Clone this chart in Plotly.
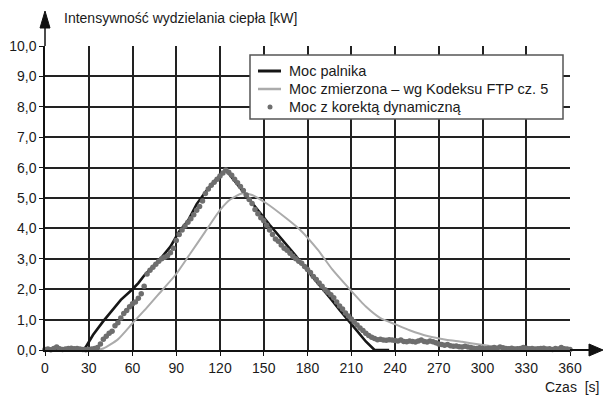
import plotly.graph_objects as go

# --- data ---------------------------------------------------------------
burner_t = [0, 26, 28, 33, 40, 46, 52, 60, 64, 68, 74, 80, 86, 92, 98, 104, 110, 116, 124,
            130, 136, 142, 148, 154, 160, 166, 172, 178, 184, 190, 196, 202, 208, 214, 220, 226, 236]
burner_p = [0.0, 0.0, 0.1, 0.5, 0.95, 1.3, 1.65, 2.0, 2.2, 2.45, 2.75, 3.05, 3.4, 3.9, 4.25, 4.8,
            5.2, 5.55, 5.92, 5.55, 5.2, 4.82, 4.48, 4.12, 3.78, 3.45, 3.1, 2.72, 2.38, 2.02,
            1.68, 1.32, 0.98, 0.62, 0.28, 0.0, 0.0]

measured_t = [35, 40, 50, 60, 70, 80, 90, 100, 110, 120, 127, 135, 142, 152, 165, 175, 187,
              197, 208, 220, 230, 240, 250, 263, 275, 286, 298, 309, 320, 340, 360]
measured_p = [0.0, 0.05, 0.35, 0.88, 1.4, 1.95, 2.5, 3.2, 3.9, 4.6, 4.95, 5.15, 5.1, 4.82,
              4.35, 3.95, 3.3, 2.65, 2.05, 1.43, 1.05, 0.85, 0.65, 0.45, 0.34, 0.27, 0.18,
              0.11, 0.08, 0.05, 0.04]

corrected_t = list(range(0, 361, 2))
corrected_p = [
    0.02, 0.03, 0.01, 0.05, 0.10, 0.04, 0.02, 0.03, 0.05, 0.06,   # 0-18
    0.04, 0.05, 0.03, 0.02, 0.01, 0.02, 0.03, 0.05, 0.08, 0.20,   # 20-38
    0.35, 0.45, 0.55, 0.62, 0.80, 0.90, 1.05, 1.20, 1.30, 1.42,   # 40-58
    1.52, 1.58, 1.70, 1.85, 2.10, 2.50, 2.62, 2.72, 2.82, 2.92,   # 60-78
    3.00, 3.05, 3.10, 3.20, 3.35, 3.60, 3.80, 3.95, 4.08, 4.20,   # 80-98
    4.32, 4.45, 4.60, 4.72, 4.90, 5.15, 5.30, 5.42, 5.52, 5.62,   # 100-118
    5.72, 5.82, 5.92, 5.85, 5.75, 5.62, 5.50, 5.38, 5.25, 5.10,   # 120-138
    4.95, 4.82, 4.62, 4.48, 4.35, 4.25, 4.10, 3.95, 3.80, 3.65,   # 140-158
    3.58, 3.45, 3.35, 3.28, 3.18, 3.08, 3.00, 2.92, 2.85, 2.75,   # 160-178
    2.65, 2.55, 2.42, 2.32, 2.20, 2.10, 1.98, 1.90, 1.82, 1.72,   # 180-198
    1.58, 1.45, 1.35, 1.22, 1.12, 1.02, 0.92, 0.82, 0.72, 0.64,   # 200-218
    0.55, 0.48, 0.42, 0.38, 0.34, 0.35, 0.33, 0.32, 0.34, 0.33,   # 220-238
    0.31, 0.30, 0.33, 0.28, 0.27, 0.30, 0.28, 0.26, 0.30, 0.33,   # 240-258
    0.28, 0.26, 0.30, 0.27, 0.24, 0.20, 0.18, 0.16, 0.18, 0.14,   # 260-278
    0.12, 0.13, 0.11, 0.10, 0.12, 0.10, 0.08, 0.06, 0.05, 0.07,   # 280-298
    0.05, 0.04, 0.06, 0.05, 0.08, 0.06, 0.10, 0.07, 0.05, 0.04,   # 300-318
    0.06, 0.03, 0.04, 0.05, 0.08, 0.06, 0.04, 0.05, 0.03, 0.04,   # 320-338
    0.05, 0.06, 0.03, 0.04, 0.02, 0.05, 0.03, 0.08, 0.04, 0.03,   # 340-358
    0.02,                                                          # 360
]

x_ticks = list(range(0, 361, 30))
y_ticks = [i * 1.0 for i in range(0, 11)]

names = ["Moc palnika", "Moc zmierzona – wg Kodeksu FTP cz. 5", "Moc z korektą dynamiczną"]
y_title = "Intensywność wydzielania ciepła [kW]"
x_title = "Czas  [s]"

FONT = "Liberation Sans, Arial, sans-serif"
BLACK_LINE = "#161616"
GRAY_LINE = "#ababab"
DOT = "#6e6e6e"

fig = go.Figure()
fig.add_trace(go.Scatter(x=burner_t, y=burner_p, mode="lines", name=names[0],
                         line=dict(color=BLACK_LINE, width=2.6), cliponaxis=False))
fig.add_trace(go.Scatter(x=measured_t, y=measured_p, mode="lines", name=names[1],
                         line=dict(color=GRAY_LINE, width=2, shape="spline", smoothing=0.6),
                         cliponaxis=False))
fig.add_trace(go.Scatter(x=corrected_t, y=corrected_p, mode="markers", name=names[2],
                         marker=dict(color=DOT, size=5.5), cliponaxis=False))

W, H = 603, 395
L, R, T, B = 45, 33, 46, 45
pw, ph = W - L - R, H - T - B

def px(x):
    return (x - L) / pw

def py(y):
    return (H - B - y) / ph

# legend drawn as a framed box (pixel layout of the reference)
leg_x0, leg_x1, leg_y0, leg_y1 = 250, 563, 55, 119
row_y = [71, 89, 107]
shapes = [
    # axis extensions with arrowheads
    dict(type="line", xref="paper", yref="paper", x0=0, x1=0, y0=1, y1=py(27),
         line=dict(color="#111", width=1.5)),
    dict(type="path", xref="paper", yref="paper",
         path=f"M {px(45)} {py(11)} L {px(40)} {py(28)} L {px(50)} {py(28)} Z",
         fillcolor="#111", line=dict(color="#111", width=1)),
    dict(type="line", xref="paper", yref="paper", x0=1, x1=px(590), y0=0, y1=0,
         line=dict(color="#111", width=2)),
    dict(type="path", xref="paper", yref="paper",
         path=f"M {px(603)} {py(350)} L {px(589)} {py(344)} L {px(589)} {py(356)} Z",
         fillcolor="#111", line=dict(color="#111", width=1)),
    # legend frame
    dict(type="rect", xref="paper", yref="paper", x0=px(leg_x0), x1=px(leg_x1),
         y0=py(leg_y1), y1=py(leg_y0), fillcolor="white", line=dict(color="#555", width=1.5),
         layer="above"),
    dict(type="line", xref="paper", yref="paper", x0=px(258), x1=px(281),
         y0=py(row_y[0]), y1=py(row_y[0]), line=dict(color=BLACK_LINE, width=3), layer="above"),
    dict(type="line", xref="paper", yref="paper", x0=px(258), x1=px(281),
         y0=py(row_y[1]), y1=py(row_y[1]), line=dict(color=GRAY_LINE, width=2.5), layer="above"),
    dict(type="circle", xref="paper", yref="paper", x0=px(267.5), x1=px(272.5),
         y0=py(row_y[2] + 2.5), y1=py(row_y[2] - 2.5), fillcolor=DOT,
         line=dict(color=DOT, width=0), layer="above"),
]

annotations = [
    dict(text=y_title, xref="paper", yref="paper", x=px(62), y=py(18),
         xanchor="left", yanchor="middle", showarrow=False, font=dict(size=14)),
    dict(text=x_title, xref="paper", yref="paper", x=px(601), y=py(387),
         xanchor="right", yanchor="middle", showarrow=False, font=dict(size=14)),
]
for name, ry in zip(names, row_y):
    annotations.append(dict(text=name, xref="paper", yref="paper", x=px(287), y=py(ry),
                            xanchor="left", yanchor="middle", showarrow=False,
                            font=dict(size=14.5)))

fig.update_layout(
    width=W, height=H,
    margin=dict(l=L, r=R, t=T, b=B, autoexpand=False),
    paper_bgcolor="white", plot_bgcolor="white",
    separators=", ",
    font=dict(family=FONT, size=14, color="#1a1a1a"),
    showlegend=False,
    xaxis=dict(range=[0, 360], tickvals=x_ticks, showgrid=True, gridcolor="#222",
               gridwidth=2, showline=True, linecolor="#111", linewidth=2,
               ticks="outside", ticklen=4, tickcolor="#111", zeroline=False,
               tickfont=dict(size=14), automargin=False),
    yaxis=dict(range=[0, 10], tickvals=y_ticks, tickformat=".1f", showgrid=True,
               gridcolor="#222", gridwidth=2, showline=True, linecolor="#111",
               linewidth=1.5, ticks="outside", ticklen=4, tickcolor="#111",
               zeroline=False, tickfont=dict(size=14), automargin=False),
    shapes=shapes,
    annotations=annotations,
)

fig.write_html(
    "out.html",
    config={"displayModeBar": False},
    post_script="document.body.style.margin='0';document.body.style.overflow='hidden';",
)
